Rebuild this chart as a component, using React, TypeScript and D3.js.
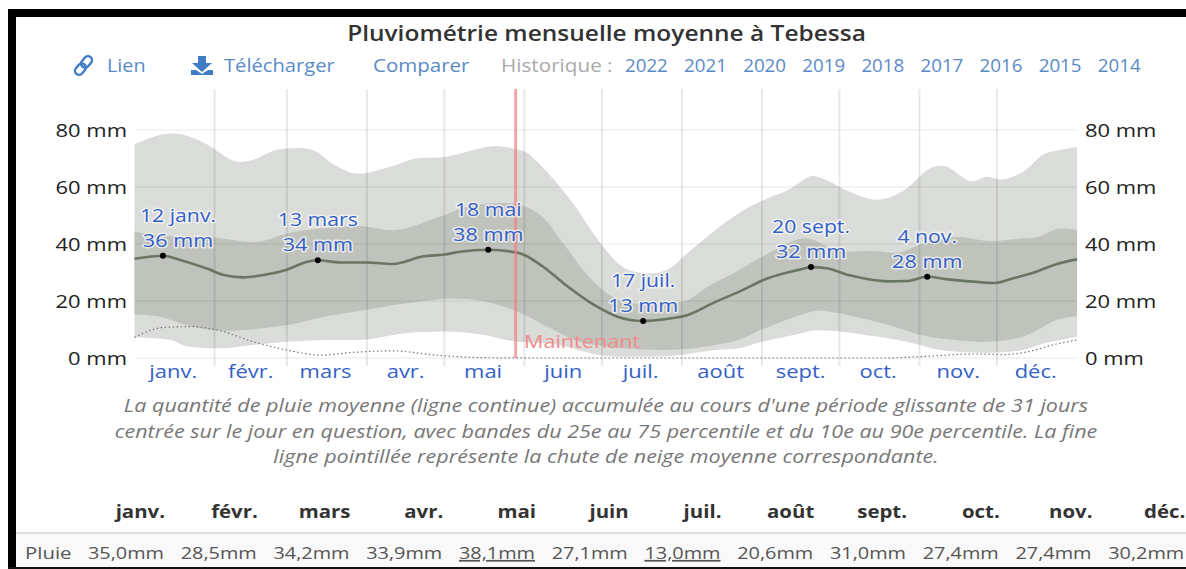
import React from "react";
import * as d3 from "d3";

const W = 1186, H = 569;
const FONT = "'Open Sans', sans-serif";

type P = [number, number];
const p90: P[] = [[0,75],[11,78.5],[18,78.5],[28,75],[39,69],[46,69.6],[55,73],[69,73],[77,68],[86,64.7],[98,66.8],[109,70],[120,70.5],[139,74.3],[149,73],[152,72],[161,64],[170,54],[180,40.8],[189,32],[197,29.7],[206,30.8],[214,36.7],[225,44.9],[236,51.9],[245,56],[253,58.9],[258,61.8],[262,63.9],[268,62.4],[277,58.3],[286,55.6],[292,56.2],[299,59.5],[308,66.5],[314,67.3],[324,62],[330,63.6],[336,62.6],[344,65.3],[352,71.4],[357,72.7],[365,74]];
const p75: P[] = [[0,44.3],[11,43],[30,42.3],[48,40.8],[59,43.7],[72,45.4],[87,46.3],[101,44.9],[118,49.5],[130,53.3],[143,54.4],[150,53.6],[158,49.5],[167,39],[176,28.5],[185,21.5],[193,19.2],[206,19],[214,20.3],[222,25],[232,29.7],[243,35.5],[253,40.2],[260,42],[273,37.6],[286,37.6],[296,37],[305,40],[318,42.5],[331,41],[344,42],[350,42.5],[358,45.4],[365,44.9]];
const p25: P[] = [[0,15.3],[10,14.5],[20,11.6],[30,9.8],[38,9.6],[52,10.7],[62,12],[72,14.2],[85,16.2],[98,18.2],[110,19.7],[123,20.9],[136,19.7],[149,16],[161,10.4],[172,5.8],[183,4],[197,3],[211,3],[225,4.6],[234,6.3],[243,10],[254,13.9],[262,16.2],[266,16.6],[279,14.5],[292,11.6],[305,8],[318,6.3],[331,5.7],[344,7.5],[352,11],[357,13.3],[365,14.7]];
const p10: P[] = [[0,7.2],[14,6.3],[20,4.2],[33,3.4],[46,4.6],[59,5.7],[74,6.3],[90,6.5],[104,8.6],[123,9.2],[136,8],[146,6],[161,5],[167,4],[180,1],[197,0.5],[211,1],[225,2.8],[234,3.4],[243,5.7],[258,8.6],[262,9.6],[270,9.6],[286,7.7],[299,5.7],[312,2.8],[325,1.9],[334,1.9],[344,2.8],[352,5.1],[365,7.5]];
const mean: P[] = [[0,34.8],[11,35.9],[17,34.6],[28,31.4],[35,29],[42,28.3],[50,29.1],[59,31],[67,33.8],[71,34.3],[80,33.5],[90,33.5],[100,33],[112,35.7],[120,36.3],[126,37.3],[137,38],[149,36.8],[158,32.2],[167,25.6],[178,18.6],[187,14.5],[197,13],[206,13.7],[214,15],[225,19.7],[234,23.2],[245,27.9],[258,31.1],[262,31.9],[268,31.5],[277,29],[292,26.9],[299,27],[307,28.5],[315,27.6],[325,26.8],[333,26.3],[340,27.9],[348,29.9],[357,32.9],[365,34.6]];
const snow: P[] = [[0,7.2],[11,10.7],[22,11],[33,9.6],[46,5.7],[59,2.8],[72,1],[85,2],[100,2.5],[117,1],[136,0.1],[160,0],[290,0],[305,0.5],[325,1.4],[337,1.2],[346,2.2],[357,4.9],[365,6.3]];

const monthStarts = [31,59,90,120,151,181,212,243,273,304,334];
const monthMids = [15,45,74,105,135,166,196,227,258,288,319,349];
const monthLabels = ["janv.","févr.","mars","avr.","mai","juin","juil.","août","sept.","oct.","nov.","déc."];
const yTicks = [0,20,40,60,80];
const nowDay = 147.6;

const peakDays = [11,71,137,197,262,307];
const peakValues = [35.9,34.3,38,13,31.9,28.5];
const peakDates = ["12 janv.","13 mars","18 mai","17 juil.","20 sept.","4 nov."];
const peakMm = ["36 mm","34 mm","38 mm","13 mm","32 mm","28 mm"];

const years = ["2022","2021","2020","2019","2018","2017","2016","2015","2014"];
const rainValues = ["35,0mm","28,5mm","34,2mm","33,9mm","38,1mm","27,1mm","13,0mm","20,6mm","31,0mm","27,4mm","27,4mm","30,2mm"];
const caption = [
  "La quantité de pluie moyenne (ligne continue) accumulée au cours d'une période glissante de 31 jours",
  "centrée sur le jour en question, avec bandes du 25e au 75 percentile et du 10e au 90e percentile. La fine",
  "ligne pointillée représente la chute de neige moyenne correspondante.",
];

const x = d3.scaleLinear().domain([0, 365]).range([134.5, 1077]);
const y = d3.scaleLinear().domain([0, 80]).range([358, 130]);
const smooth = d3.line<P>().x(d => x(d[0])).y(d => y(d[1])).curve(d3.curveMonotoneX);
const edge = d3.line<P>().x(d => x(d[0])).y(d => y(d[1])).curve(d3.curveCatmullRom.alpha(0.5));
const band = (top: P[], bottom: P[]) =>
  (edge(top) ?? "") + "L" + (edge([...bottom].reverse()) ?? "").slice(1) + "Z";

const LINK = "#5a8ac6";
const BLUE = "#3460c8";
const AXIS = "#222";

// The reference screenshot is stretched horizontally: text is drawn with a horizontal scale.
function T({ x, y, sx = 1.2, children, ...rest }: any) {
  return <text transform={`translate(${x},${y}) scale(${sx},1)`} {...rest}>{children}</text>;
}

export default function App() {
  return (
    <svg width={W} height={H} style={{ position: "absolute", left: 0, top: 0, fontFamily: FONT }}>
      <rect x={0} y={0} width={W} height={H} fill="#fff" />
      <rect x={8} y={9} width={W - 8} height={8} fill="#000" />
      <rect x={8} y={9} width={8} height={H - 9} fill="#000" />
      <rect x={8} y={567} width={W - 8} height={2} fill="#111" />

      <T x={606.5} y={41} sx={1.166} textAnchor="middle" fontSize={21} fontWeight={600} fill="#333">Pluviométrie mensuelle moyenne à Tebessa</T>

      <g fontSize={18} fill={LINK}>
        <g transform="translate(83.5,65.5) rotate(-50)" fill="none" stroke="#3f7cc4" strokeWidth={2.4}>
          <rect x={-11} y={-4} width={12.5} height={8} rx={4} />
          <rect x={-1.5} y={-4} width={12.5} height={8} rx={4} />
        </g>
        <T x={107} y={72} sx={1.1}>Lien</T>
        <path d="M198,56h8v7h6l-10,9l-10,-9h6zM191,70h5l6,4l6,-4h5v5h-22z" fill="#3f7cc4" />
        <T x={224} y={72} sx={1.12}>Télécharger</T>
        <T x={373} y={72} sx={1.14}>Comparer</T>
        <T x={501} y={72} sx={1.15} fill="#aaa">Historique :</T>
        {years.map((t, i) => (
          <T key={t} x={625 + i * 59.1} y={72} sx={1.04}>{t}</T>
        ))}
      </g>

      <path d={band(p90, p10)} fill="#dadcd9" />
      <path d={band(p75, p25)} fill="#bfc3bc" />

      {yTicks.map(t => (
        <line key={t} x1={135} x2={1077} y1={y(t)} y2={y(t)} stroke="#000" strokeOpacity={0.045} strokeWidth={2} />
      ))}
      {monthStarts.map(d => (
        <line key={d} x1={x(d)} x2={x(d)} y1={89} y2={366} stroke="#000" strokeOpacity={0.09} strokeWidth={2} />
      ))}

      <path d={smooth(snow) ?? ""} fill="none" stroke="#777" strokeWidth={1.2} strokeDasharray="1.5 2.5" />
      <path d={smooth(mean) ?? ""} fill="none" stroke="#6b7563" strokeWidth={2.6} />

      <line x1={x(nowDay)} x2={x(nowDay)} y1={89} y2={358} stroke="#f08080" strokeOpacity={0.7} strokeWidth={3} />
      <T x={524} y={348} fontSize={18} fill="#f28b8b">Maintenant</T>

      {peakDays.map((d, i) => {
        const px = x(d), py = y(peakValues[i]);
        const tx = Math.max(px, 178);
        return (
          <g key={d}>
            <circle cx={px} cy={py} r={3} fill="#000" />
            <g textAnchor="middle" fontSize={18} fill={BLUE} stroke="#fff" strokeOpacity={0.65} strokeWidth={3} paintOrder="stroke" strokeLinejoin="round">
              <T x={tx} y={py - 34} sx={1.18}>{peakDates[i]}</T>
              <T x={tx} y={py - 9} sx={1.2}>{peakMm[i]}</T>
            </g>
          </g>
        );
      })}

      <g fontSize={18} fill={AXIS}>
        {yTicks.map(t => (
          <g key={t}>
            <T x={127} y={y(t) + 6.5} sx={1.22} textAnchor="end">{t} mm</T>
            <T x={1085} y={y(t) + 6.5} sx={1.22}>{t} mm</T>
          </g>
        ))}
      </g>

      <g fontSize={18} fill={BLUE} textAnchor="middle">
        {monthMids.map((d, i) => (
          <T key={d} x={x(d)} y={378} sx={1.22}>{monthLabels[i]}</T>
        ))}
      </g>

      <g fontSize={18} fontStyle="italic" fill="#777" textAnchor="middle">
        {caption.map((c, i) => (
          <T key={i} x={606} y={412 + i * 25.5} sx={1.197}>{c}</T>
        ))}
      </g>

      <rect x={16} y={534} width={W - 16} height={33} fill="#f9f9f9" />
      <rect x={16} y={532} width={W - 16} height={2} fill="#ddd" />
      <g fontSize={17} textAnchor="end">
        {monthLabels.map((m, i) => (
          <T key={m} x={165 + i * 92.75} y={518} sx={1.2} fontWeight={700} fill="#333">{m}</T>
        ))}
        <T x={25} y={559} sx={1.2} textAnchor="start" fill="#555">Pluie</T>
        {rainValues.map((v, i) => (
          <T key={i} x={164 + i * 92.75} y={559} sx={1.17} fill="#555" textDecoration={i === 4 || i === 6 ? "underline" : undefined}>{v}</T>
        ))}
      </g>
    </svg>
  );
}
